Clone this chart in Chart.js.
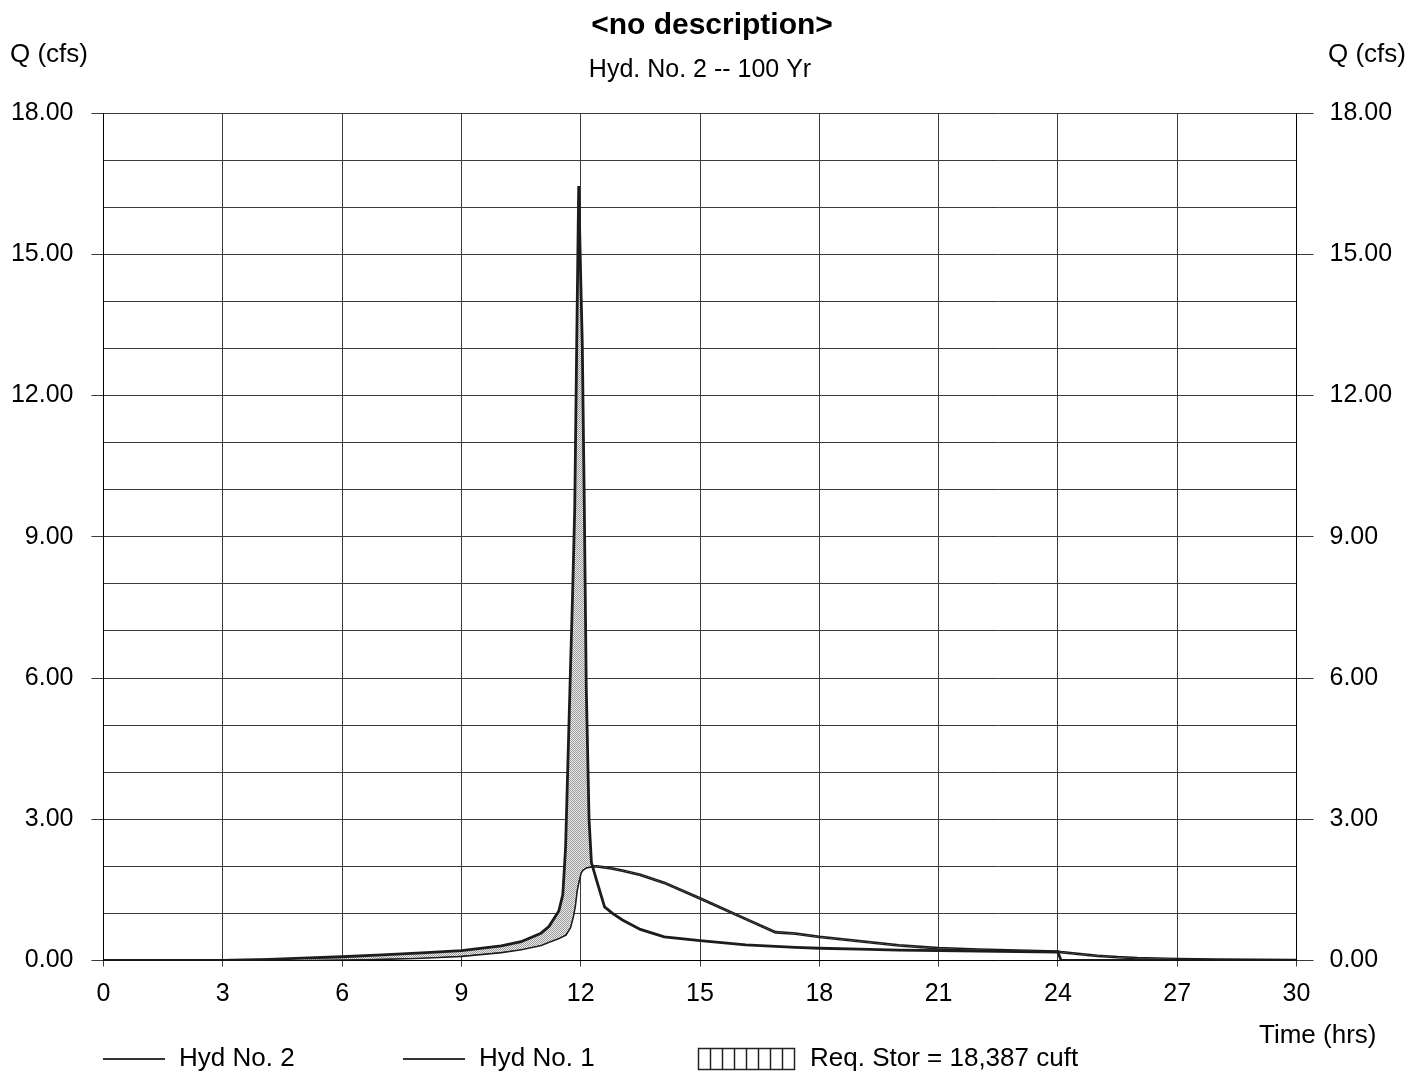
<!DOCTYPE html>
<html><head><meta charset="utf-8">
<script src="https://cdn.jsdelivr.net/npm/chart.js@4.4.0/dist/chart.umd.min.js"></script>
<style>html,body{margin:0;padding:0;background:#fff;}canvas{display:block;}</style>
</head><body>
<canvas id="c" width="1424" height="1074"></canvas>
<script>
// ---- data ----
const timeHrs = [0, 3, 4, 5, 6, 7, 8, 9, 10, 10.5, 11, 11.2, 11.45, 11.55, 11.62, 11.73, 11.8, 11.85, 11.9, 11.95, 12.0, 12.04, 12.09, 12.14, 12.21, 12.27, 12.4, 12.6, 12.8, 13.05, 13.5, 14.1, 15, 16.15, 16.9, 17.4, 18, 19, 20, 21, 22, 23, 24, 24.08, 24.5, 25, 25.5, 26, 27, 28, 30];
const hyd1Inflow = [0, 0, 0.02, 0.05, 0.08, 0.12, 0.16, 0.21, 0.31, 0.40, 0.58, 0.72, 1.05, 1.40, 2.40, 5.80, 7.90, 9.60, 13.10, 16.45, 14.50, 13.10, 9.70, 5.80, 3.00, 2.08, 1.70, 1.14, 1.00, 0.86, 0.66, 0.50, 0.42, 0.33, 0.30, 0.28, 0.26, 0.24, 0.22, 0.21, 0.20, 0.19, 0.18, 0, 0, 0, 0, 0, 0, 0, 0];
const hyd2Outflow = [0, 0, 0.005, 0.01, 0.02, 0.035, 0.06, 0.10, 0.18, 0.24, 0.33, 0.40, 0.48, 0.52, 0.55, 0.70, 0.93, 1.15, 1.50, 1.70, 1.87, 1.92, 1.95, 1.98, 1.99, 2.00, 2.00, 1.98, 1.95, 1.91, 1.82, 1.65, 1.32, 0.88, 0.60, 0.57, 0.50, 0.41, 0.32, 0.26, 0.23, 0.21, 0.19, 0.18, 0.14, 0.10, 0.07, 0.05, 0.03, 0.02, 0.01];
const xTickStep = 3;
const yTickStep = 1;
const yLabelEvery = 3;
const titleText = '<no description>';
const subtitleText = 'Hyd. No. 2 -- 100 Yr';
const yAxisTitle = 'Q (cfs)';
const xAxisTitle = 'Time (hrs)';
const legendLabels = ['Hyd No. 2', 'Hyd No. 1', 'Req. Stor = 18,387 cuft'];

// ---- styles ----
const FONT = '"Liberation Sans", Arial, sans-serif';
const LINE = '#1c1c1c';
const GRID = '#3a3a3a';

function makePattern() {
  const p = document.createElement('canvas');
  p.width = 2; p.height = 2;
  const g = p.getContext('2d');
  g.fillStyle = '#ececec'; g.fillRect(0, 0, 2, 2);
  g.fillStyle = '#9a9a9a'; g.fillRect(0, 0, 1, 1); g.fillRect(1, 1, 1, 1);
  return document.getElementById('c').getContext('2d').createPattern(p, 'repeat');
}
const stipple = makePattern();

const pts = arr => timeHrs.map((t, i) => ({ x: t, y: arr[i] }));

const decor = {
  id: 'decor',
  afterDraw(chart) {
    const ctx = chart.ctx;
    ctx.save();
    ctx.fillStyle = '#000';
    ctx.textBaseline = 'middle';
    ctx.textAlign = 'center';
    ctx.font = 'bold 30px ' + FONT;
    ctx.fillText(titleText, 712, 26);
    ctx.font = '25px ' + FONT;
    ctx.fillText(subtitleText, 700, 70);
    ctx.font = '26px ' + FONT;
    ctx.textAlign = 'left';
    ctx.fillText(yAxisTitle, 10, 55);
    ctx.fillText(yAxisTitle, 1328, 55);
    ctx.fillText(xAxisTitle, 1259, 1036);
    // legend
    const ly = 1059;
    ctx.strokeStyle = '#333';
    ctx.lineWidth = 2;
    [[103, 0], [403, 1]].forEach(([x, k]) => {
      ctx.beginPath(); ctx.moveTo(x, ly); ctx.lineTo(x + 62, ly); ctx.stroke();
      ctx.fillText(legendLabels[k], x + 76, ly);
    });
    // hatched box
    ctx.lineWidth = 1.5;
    ctx.strokeStyle = '#222';
    const bx = 698, bw = 96, by = 1048, bh = 21;
    ctx.strokeRect(bx + 0.5, by + 0.5, bw, bh);
    for (let i = 1; i < 8; i++) {
      const xx = Math.round(bx + i * bw / 8) + 0.5;
      ctx.beginPath(); ctx.moveTo(xx, by); ctx.lineTo(xx, by + bh); ctx.stroke();
    }
    ctx.fillText(legendLabels[2], 810, ly);
    ctx.restore();
  }
};

const yTickColor = ctx => (ctx.tick && ctx.tick.value % yLabelEvery === 0) ? GRID : 'rgba(0,0,0,0)';
const yLabel = v => (v % yLabelEvery === 0) ? v.toFixed(2) : '';

new Chart(document.getElementById('c'), {
  type: 'line',
  data: {
    datasets: [
      { label: legendLabels[1], data: pts(hyd1Inflow), borderColor: LINE, borderWidth: 2.8,
        pointRadius: 0, tension: 0, xAxisID: 'x', yAxisID: 'y',
        fill: { target: 1, above: stipple, below: 'rgba(0,0,0,0)' } },
      { label: legendLabels[0], data: pts(hyd2Outflow), borderColor: LINE, borderWidth: 2.8,
        pointRadius: 0, tension: 0, xAxisID: 'x', yAxisID: 'y', fill: false }
    ]
  },
  options: {
    responsive: false, animation: false, devicePixelRatio: 1,
    layout: { padding: { top: 113, left: 0, right: 0, bottom: 0 } },
    plugins: { legend: { display: false }, title: { display: false }, tooltip: { enabled: false } },
    scales: {
      x: {
        type: 'linear', min: 0, max: 30,
        ticks: { stepSize: xTickStep, autoSkip: false, maxRotation: 0, color: '#000',
          font: { family: FONT, size: 25 }, padding: 13 },
        grid: { color: GRID, lineWidth: 1, tickLength: 6 },
        border: { color: '#000', width: 1 },
        afterFit: s => { s.height = 113.5; }
      },
      y: {
        position: 'left', min: 0, max: 18,
        ticks: { stepSize: yTickStep, autoSkip: false, color: '#000', callback: yLabel,
          font: { family: FONT, size: 25 }, padding: 18 },
        grid: { color: GRID, lineWidth: 1, tickLength: 12, tickColor: yTickColor },
        border: { color: '#000', width: 1 },
        afterFit: s => { s.width = 103.5; }
      },
      y2: {
        position: 'right', min: 0, max: 18,
        ticks: { stepSize: yTickStep, autoSkip: false, color: '#000', callback: yLabel,
          font: { family: FONT, size: 25 }, padding: 16 },
        grid: { drawOnChartArea: false, color: GRID, lineWidth: 1, tickLength: 17, tickColor: yTickColor },
        border: { color: '#000', width: 1 },
        afterFit: s => { s.width = 127.5; }
      }
    }
  },
  plugins: [decor]
});
</script>
</body></html>
